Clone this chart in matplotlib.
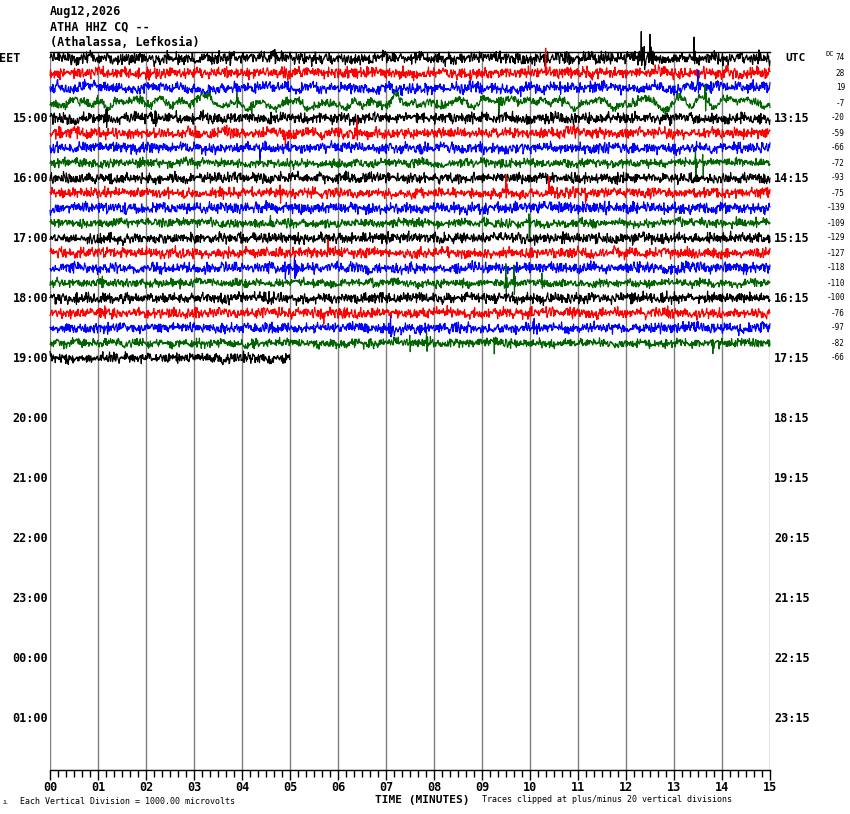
import numpy as np
import matplotlib
matplotlib.use("Agg")
import matplotlib.pyplot as plt
import matplotlib.transforms as mtransforms

# header / station
header = ["Aug12,2026", "ATHA HHZ CQ --", "(Athalassa, Lefkosia)"]

# one trace per 15 minutes, colours cycle
trace_colors = ["black", "red", "blue", "#006400"]
n_rows_total = 48            # 14:00 .. 01:45 EET
n_rows_data = 21             # last one only partial
last_row_minutes = 5.0

left_labels = ["EET", "15:00", "16:00", "17:00", "18:00", "19:00", "20:00",
               "21:00", "22:00", "23:00", "00:00", "01:00"]
right_labels = ["UTC", "13:15", "14:15", "15:15", "16:15", "17:15", "18:15",
                "19:15", "20:15", "21:15", "22:15", "23:15"]
dc_values = [74, 28, 19, -7, -20, -59, -66, -72, -93, -75, -139, -109,
             -129, -127, -118, -110, -100, -76, -97, -82, -66]

# background noise level per trace (pixels) and slow wobble (pixels)
noise_px = [3.0, 2.7, 2.5, 1.9, 2.6, 2.6, 2.5, 2.1, 2.5, 2.4, 2.6, 2.1,
            2.5, 2.5, 2.5, 2.0, 2.5, 2.5, 2.5, 2.1, 2.4]
wobble_px = [0.6, 0.5, 1.3, 3.0, 0.6, 0.5, 0.5, 0.6, 0.4, 0.4, 0.5, 0.6,
             0.4, 0.4, 0.5, 0.6, 0.4, 0.4, 0.5, 0.6, 0.4]

# visible spikes: (row, minute, up px, down px)
events = [
    (0, 12.32, 24, 6), (0, 12.38, 3, 9), (0, 12.50, 20, 5), (0, 13.42, 22, 4),
    (1, 10.33, 19, 4),
    (2, 13.50, 10, 6), (2, 9.80, 2, 8),
    (3, 3.90, 10, 10), (3, 4.20, 3, 10), (3, 9.35, 4, 10), (3, 13.65, 12, 10),
    (4, 1.18, 10, 13), (4, 2.20, 8, 6),
    (5, 4.90, 3, 10), (5, 6.40, 9, 3),
    (6, 4.37, 2, 10),
    (7, 13.45, 12, 20), (7, 13.60, 6, 13),
    (9, 1.15, 10, 3), (9, 4.80, 3, 10), (9, 9.50, 17, 4), (9, 10.40, 12, 3),
    (9, 11.15, 3, 10),
    (10, 5.05, 7, 7),
    (11, 4.60, 9, 3), (11, 9.98, 9, 13),
    (13, 5.80, 12, 4),
    (14, 4.90, 3, 13), (14, 5.10, 11, 11), (14, 14.50, 4, 9),
    (15, 1.10, 9, 3), (15, 9.50, 17, 10), (15, 9.67, 15, 13), (15, 10.25, 12, 5),
    (16, 12.85, 7, 3),
    (17, 1.15, 7, 3), (17, 5.70, 3, 8),
    (18, 7.10, 10, 10), (18, 10.07, 10, 6),
    (19, 7.50, 5, 7), (19, 7.85, 12, 10), (19, 9.25, 4, 10), (19, 13.80, 4, 10),
]

ROW_PX = 15.0
N = 1500


def texture(n, k):
    # deterministic quasi-noise, used only as trace texture
    i = np.arange(n, dtype=float)
    u1 = (i * i * 0.7548776662 + k * 0.5698402910) % 1.0
    u2 = (i * i * 0.5698402910 + i * 0.3 + k * 0.7548776662) % 1.0
    u3 = (i * i * 0.4142135624 + k * 0.2360679775) % 1.0
    return (u1 + u2 + u3 - 1.5) / 0.5


def smooth(v, w):
    ker = np.ones(w) / w
    out = np.convolve(v, ker, mode="same")
    return out / (np.std(out) + 1e-9)


fig = plt.figure(figsize=(8.5, 8.14), dpi=100)
W, H = 850.0, 814.0
x0, x1, ytop, ybot = 50, 770, 52, 770
ax = fig.add_axes([x0 / W, 1 - ybot / H, (x1 - x0) / W, (ybot - ytop) / H])
row0_px = 58
ax.set_xlim(0, 15)
ax.set_ylim(-(ybot - row0_px), row0_px - ytop)

t = np.linspace(0, 15, N)
for r in range(n_rows_data):
    y = noise_px[r] * texture(N, r + 1)
    y += wobble_px[r] * smooth(texture(N, r + 50), 22)
    for (er, m, up, dn) in events:
        if er != r:
            continue
        j = int(m / 15 * (N - 1))
        y[j] += up
        y[j + 1] -= dn
        y[j + 2] += up * 0.3
        y[j + 3] -= dn * 0.3
    y = np.clip(y, -20 * ROW_PX, 20 * ROW_PX)
    tt = t
    if r == n_rows_data - 1:
        keep = t <= last_row_minutes
        tt, y = t[keep], y[keep]
    ax.plot(tt, -r * ROW_PX + y, color=trace_colors[r % 4], lw=0.85,
            clip_on=False, zorder=3)

# minute grid
for m in range(16):
    ax.axvline(m, color="#808080", lw=1.0, zorder=1)

for s in ["left", "right"]:
    ax.spines[s].set_visible(False)
ax.spines["top"].set_color("black")
ax.spines["bottom"].set_color("black")
ax.spines["top"].set_linewidth(1.0)
ax.spines["bottom"].set_linewidth(1.0)
ax.set_yticks([])
ax.set_xticks(range(16))
ax.set_xticklabels(["%02d" % m for m in range(16)], fontfamily="DejaVu Sans Mono",
                   fontweight="bold", fontsize=8.5)
ax.set_xticks(np.arange(0, 15.01, 1 / 6), minor=True)
ax.tick_params(axis="x", which="major", direction="out", length=7, width=1, pad=1)
ax.tick_params(axis="x", which="minor", direction="out", length=5, width=1)

mono = "DejaVu Sans Mono"
bl = mtransforms.blended_transform_factory(ax.transAxes, ax.transData)
for i, lab in enumerate(left_labels):
    yy = -i * 4 * ROW_PX
    if i == 0:
        ax.text(-51 / 720, yy, lab, transform=bl, ha="left", va="center",
                fontfamily=mono, fontweight="bold", fontsize=8.5)
    else:
        ax.text(-2 / 720, yy, lab, transform=bl, ha="right", va="center",
                fontfamily=mono, fontweight="bold", fontsize=8.5)
for i, lab in enumerate(right_labels):
    yy = -i * 4 * ROW_PX
    if i == 0:
        ax.text(1 + 25 / 720, yy, lab, transform=bl, ha="center", va="center",
                fontfamily=mono, fontweight="bold", fontsize=8)
    else:
        ax.text(1 + 4 / 720, yy, lab, transform=bl, ha="left", va="center",
                fontfamily=mono, fontweight="bold", fontsize=8.5)
for i, v in enumerate(dc_values):
    ax.text(1 + 75 / 720, -i * ROW_PX, str(v), transform=bl, ha="right",
            va="center", fontfamily=mono, fontsize=5.5)
ax.text(1 + 56 / 720, 3.5, "DC", transform=bl, ha="left", va="center",
        fontfamily=mono, fontsize=5)

for i, line in enumerate(header):
    fig.text(50 / W, 1 - (12 + 15 * i) / H, line, ha="left", va="center",
             fontfamily=mono, fontweight="bold", fontsize=8.5)

fig.text(422 / W, 1 - 800 / H, "TIME (MINUTES)", ha="center", va="center",
         fontfamily=mono, fontweight="bold", fontsize=8)
fig.text(20 / W, 1 - 801 / H, "Each Vertical Division = 1000.00 microvolts",
         ha="left", va="center", fontfamily=mono, fontsize=6)
fig.text(482 / W, 1 - 800 / H, "Traces clipped at plus/minus 20 vertical divisions",
         ha="left", va="center", fontfamily=mono, fontsize=6)
fig.text(3 / W, 1 - 802 / H, "JL", ha="left", va="center", fontfamily=mono,
         fontsize=3.5)

fig.savefig("out.png", dpi=100, facecolor="white")
